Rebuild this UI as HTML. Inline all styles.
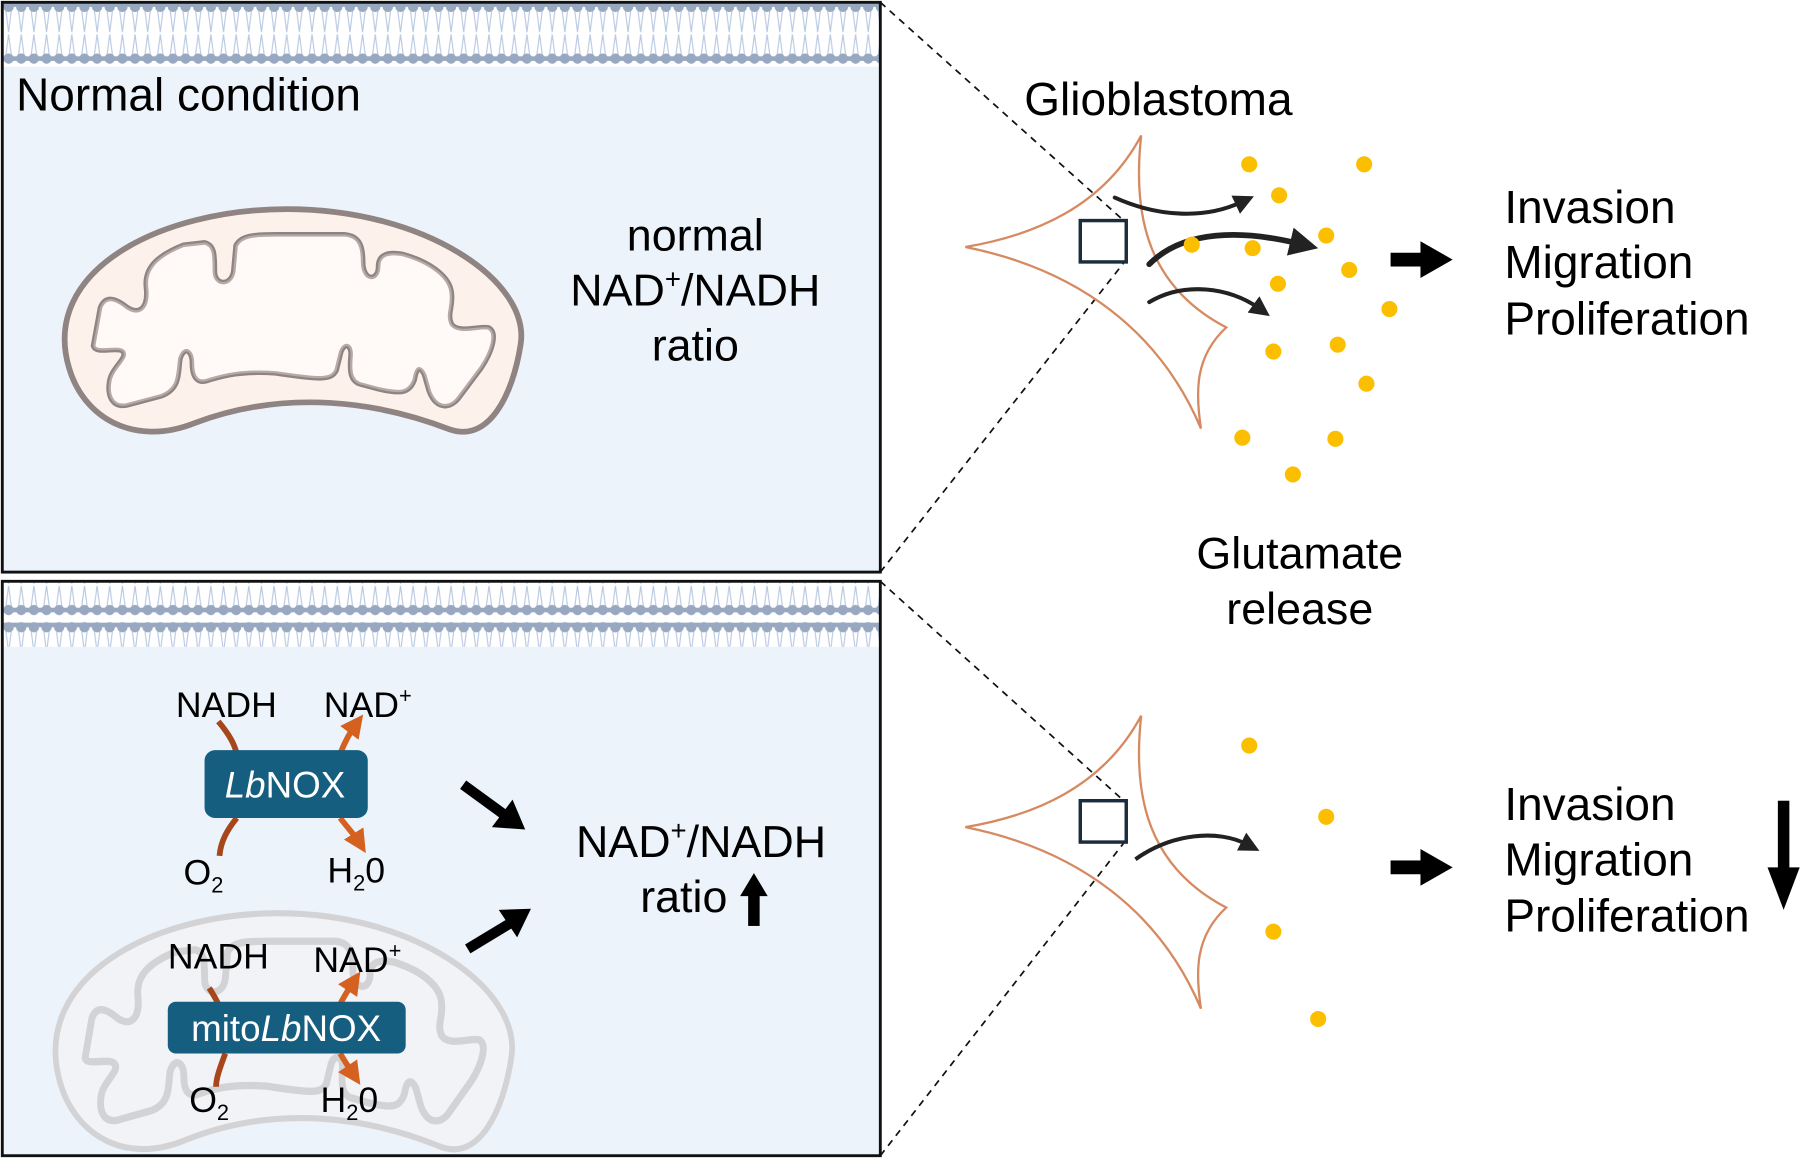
<!DOCTYPE html>
<html><head><meta charset="utf-8"><style>
html,body{margin:0;padding:0;background:#fff}
svg{display:block}
text{font-family:"Liberation Sans",Arial,sans-serif;fill:#000}
</style></head><body>
<svg width="1802" height="1158" viewBox="0 0 1568 1008" preserveAspectRatio="none" xmlns="http://www.w3.org/2000/svg">
<defs>
<pattern id="mem" x="2" y="0" width="11" height="60" patternUnits="userSpaceOnUse">
<line x1="3" y1="8" x2="5.5" y2="28" stroke="#b9c9e2" stroke-width="1"/>
<line x1="8" y1="8" x2="5.5" y2="28" stroke="#b9c9e2" stroke-width="1"/>
<line x1="3" y1="49" x2="5.5" y2="30" stroke="#b9c9e2" stroke-width="1"/>
<line x1="8" y1="49" x2="5.5" y2="30" stroke="#b9c9e2" stroke-width="1"/>
<rect x="0" y="2" width="11" height="4" fill="#98a8c0"/>
<circle cx="5.5" cy="6" r="4.5" fill="#98a8c0"/>
<rect x="0" y="49" width="11" height="4" fill="#98a8c0"/>
<circle cx="5.5" cy="51" r="4.5" fill="#98a8c0"/>
</pattern>
<marker id="ah" viewBox="0 0 10 10" refX="5" refY="5" markerWidth="4" markerHeight="4" orient="auto"><path d="M0,0 L10,5 L0,10 Z" fill="#d4611f"/></marker>
<marker id="bh" viewBox="0 0 10 10" refX="3" refY="5" markerWidth="5" markerHeight="5" orient="auto"><path d="M0,0 L10,5 L0,10 Z" fill="#222"/></marker>
<clipPath id="bp"><rect x="3" y="507" width="762" height="498"/></clipPath>
<g id="mito">
<path d="M60,320 C35,235 140,182 250,182 C370,182 462,245 453,300 C446,345 425,385 392,374 C330,350 250,338 170,368 C115,390 72,362 60,320 Z" stroke-width="5"/>
<path d="M82,301 L88,268 C92,258 100,260 110,268 C122,276 130,268 128,250 C126,232 140,222 160,214 L178,212 C186,214 186,222 186,236 C186,250 202,250 204,236 L206,214 C210,206 220,205 240,205 L300,205 C312,206 315,214 315,228 C315,246 330,246 330,232 C330,222 338,220 350,222 C372,228 390,240 392,254 C394,268 388,272 392,282 C398,292 418,284 425,286 C432,290 428,305 418,320 L400,344 C392,356 380,356 374,340 L370,326 C366,318 362,318 360,330 C356,342 348,342 330,338 L315,334 C305,332 305,322 306,310 C307,300 300,296 296,306 L292,322 C288,330 280,330 240,324 C210,322 195,326 182,330 C172,334 168,328 168,316 C168,304 160,300 156,312 C154,326 156,338 140,344 L110,352 C98,354 94,344 96,332 C98,320 112,312 108,306 C104,300 84,308 82,301 Z" stroke-width="6" fill-opacity="1"/>
</g>
</defs>
<rect x="0" y="0" width="1568" height="1008" fill="#fff"/>
<!-- top panel -->
<rect x="2" y="2" width="764" height="496" fill="#ecf3fb"/>
<rect x="3" y="2" width="762" height="56" fill="#fff"/>
<rect x="3" y="2" width="762" height="56" fill="url(#mem)"/>
<rect x="2" y="2" width="764" height="496" fill="none" stroke="#111" stroke-width="2.5"/>
<text x="14" y="96" font-size="40">Normal condition</text>
<g fill="#fdf1ec" stroke="#8f8482"><use href="#mito"/></g>
<path d="M82,301 L88,268 C92,258 100,260 110,268 C122,276 130,268 128,250 C126,232 140,222 160,214 L178,212 C186,214 186,222 186,236 C186,250 202,250 204,236 L206,214 C210,206 220,205 240,205 L300,205 C312,206 315,214 315,228 C315,246 330,246 330,232 C330,222 338,220 350,222 C372,228 390,240 392,254 C394,268 388,272 392,282 C398,292 418,284 425,286 C432,290 428,305 418,320 L400,344 C392,356 380,356 374,340 L370,326 C366,318 362,318 360,330 C356,342 348,342 330,338 L315,334 C305,332 305,322 306,310 C307,300 300,296 296,306 L292,322 C288,330 280,330 240,324 C210,322 195,326 182,330 C172,334 168,328 168,316 C168,304 160,300 156,312 C154,326 156,338 140,344 L110,352 C98,354 94,344 96,332 C98,320 112,312 108,306 C104,300 84,308 82,301 Z" fill="#fffaf8" stroke="#b5aaa7" stroke-width="2"/>
<g font-size="39" text-anchor="middle">
<text x="605" y="218">normal</text>
<text x="605" y="266">NAD<tspan font-size="24" dy="-15">+</tspan><tspan dy="15">/NADH</tspan></text>
<text x="605" y="314">ratio</text>
</g>
<!-- bottom panel -->
<rect x="2" y="506" width="764" height="500" fill="#ecf3fb"/>
<rect x="3" y="507" width="762" height="56" fill="#fff"/>
<rect x="3" y="507" width="762" height="56" fill="url(#mem)"/>
<g clip-path="url(#bp)">
<g transform="translate(-8,602) scale(1,1.06)" fill="#f2f3f6" stroke="#d3d3d6"><use href="#mito"/></g>
</g>
<rect x="2" y="506" width="764" height="500" fill="none" stroke="#111" stroke-width="2.5"/>
<!-- LbNOX -->
<g fill="none" stroke-width="5" stroke-linecap="butt">
<path d="M190,628 C200,640 204,648 206,656" stroke="#a8461b"/>
<path d="M296,656 C300,646 304,638 310,630" stroke="#d4611f" marker-end="url(#ah)"/>
<path d="M206,712 C198,722 192,732 191,745" stroke="#a8461b"/>
<path d="M296,712 C302,720 308,726 313,734" stroke="#d4611f" marker-end="url(#ah)"/>
<path d="M182,860 C186,866 188,870 190,874" stroke="#a8461b"/>
<path d="M296,874 C300,866 304,860 308,854" stroke="#d4611f" marker-end="url(#ah)"/>
<path d="M196,917 C192,928 188,938 188,946" stroke="#a8461b"/>
<path d="M296,917 C300,924 304,930 308,936" stroke="#d4611f" marker-end="url(#ah)"/>
</g>
<rect x="178" y="653" width="142" height="59" rx="9" fill="#155e80"/>
<text x="248" y="694" font-size="32" text-anchor="middle" style="fill:#fff"><tspan font-style="italic">Lb</tspan>NOX</text>
<rect x="146" y="872" width="207" height="45" rx="7" fill="#155e80"/>
<text x="249" y="906" font-size="32" text-anchor="middle" style="fill:#fff">mito<tspan font-style="italic">Lb</tspan>NOX</text>
<g font-size="31" text-anchor="middle">
<text x="197" y="624">NADH</text>
<text x="320" y="624">NAD<tspan font-size="19" dy="-12">+</tspan></text>
<text x="177" y="770">O<tspan font-size="19" dy="7">2</tspan></text>
<text x="310" y="768">H<tspan font-size="19" dy="7">2</tspan><tspan dy="-7">0</tspan></text>
<text x="190" y="843">NADH</text>
<text x="311" y="846">NAD<tspan font-size="19" dy="-12">+</tspan></text>
<text x="182" y="968">O<tspan font-size="19" dy="7">2</tspan></text>
<text x="304" y="968">H<tspan font-size="19" dy="7">2</tspan><tspan dy="-7">0</tspan></text>
</g>
<!-- black arrows -->
<line x1="403" y1="683" x2="440" y2="710" stroke="#000" stroke-width="9"/>
<polygon points="457,722 428,720 446,696" fill="#000"/>
<line x1="407" y1="826" x2="445" y2="803" stroke="#000" stroke-width="9"/>
<polygon points="462,791 434,792 450,816" fill="#000"/>
<g font-size="39" text-anchor="middle">
<text x="610" y="746">NAD<tspan font-size="24" dy="-15">+</tspan><tspan dy="15">/NADH</tspan></text>
<text x="595" y="794">ratio</text>
</g>
<rect x="651" y="778" width="10" height="28" fill="#000"/>
<polygon points="644,780 668,780 656,760" fill="#000"/>
<!-- dashed -->
<g stroke="#111" stroke-width="1.5" stroke-dasharray="6,5" fill="none">
<line x1="766" y1="2" x2="980" y2="194"/>
<line x1="766" y1="498" x2="980" y2="226"/>
<line x1="766" y1="506" x2="980" y2="699"/>
<line x1="766" y1="1006" x2="980" y2="731"/>
</g>
<!-- top cell -->
<text x="1008" y="100" font-size="40" text-anchor="middle">Glioblastoma</text>
<path d="M840,215 C900,205 960,180 993,118 C985,190 1000,250 1067,285 C1040,310 1040,340 1045,373 C1010,290 940,235 840,215 Z" fill="none" stroke="#d68a61" stroke-width="2"/>
<rect x="940" y="192" width="40" height="36" fill="none" stroke="#1b2d3c" stroke-width="3"/>
<g fill="none" stroke="#222" stroke-linecap="round">
<path d="M970,172 C1010,190 1050,190 1080,176" stroke-width="3.5" marker-end="url(#bh)"/>
<path d="M1000,230 C1030,200 1080,200 1130,212" stroke-width="5" marker-end="url(#bh)"/>
<path d="M1000,263 C1030,245 1070,250 1095,268" stroke-width="3.5" marker-end="url(#bh)"/>
</g>
<g fill="#fbbf00">
<circle cx="1087" cy="143" r="7"/><circle cx="1187" cy="143" r="7"/><circle cx="1113" cy="170" r="7"/>
<circle cx="1154" cy="205" r="7"/><circle cx="1037" cy="213" r="7"/><circle cx="1090" cy="216" r="7"/>
<circle cx="1174" cy="235" r="7"/><circle cx="1112" cy="247" r="7"/><circle cx="1209" cy="269" r="7"/>
<circle cx="1108" cy="306" r="7"/><circle cx="1164" cy="300" r="7"/><circle cx="1189" cy="334" r="7"/>
<circle cx="1081" cy="381" r="7"/><circle cx="1162" cy="382" r="7"/><circle cx="1125" cy="413" r="7"/>
</g>
<rect x="1210" y="220" width="28" height="12" fill="#000"/>
<polygon points="1236,210 1264,226 1236,242" fill="#000"/>
<g font-size="40">
<text x="1309" y="194">Invasion</text>
<text x="1309" y="242">Migration</text>
<text x="1309" y="291">Proliferation</text>
</g>
<g font-size="39" text-anchor="middle">
<text x="1131" y="495">Glutamate</text>
<text x="1131" y="543">release</text>
</g>
<!-- bottom cell -->
<path d="M840,720 C900,710 960,685 993,623 C985,695 1000,755 1067,790 C1040,815 1040,845 1045,878 C1010,795 940,740 840,720 Z" fill="none" stroke="#d68a61" stroke-width="2"/>
<rect x="940" y="697" width="40" height="36" fill="none" stroke="#1b2d3c" stroke-width="3"/>
<path d="M988,748 C1020,725 1060,722 1085,735" fill="none" stroke="#222" stroke-width="3.5" marker-end="url(#bh)"/>
<g fill="#fbbf00">
<circle cx="1087" cy="649" r="7"/><circle cx="1154" cy="711" r="7"/><circle cx="1108" cy="811" r="7"/><circle cx="1147" cy="887" r="7"/>
</g>
<rect x="1210" y="749" width="28" height="12" fill="#000"/>
<polygon points="1236,739 1264,755 1236,771" fill="#000"/>
<g font-size="40">
<text x="1309" y="714">Invasion</text>
<text x="1309" y="762">Migration</text>
<text x="1309" y="811">Proliferation</text>
</g>
<rect x="1547" y="697" width="10" height="60" fill="#000"/>
<polygon points="1538,755 1566,755 1552,792" fill="#000"/>
</svg>
</body></html>
